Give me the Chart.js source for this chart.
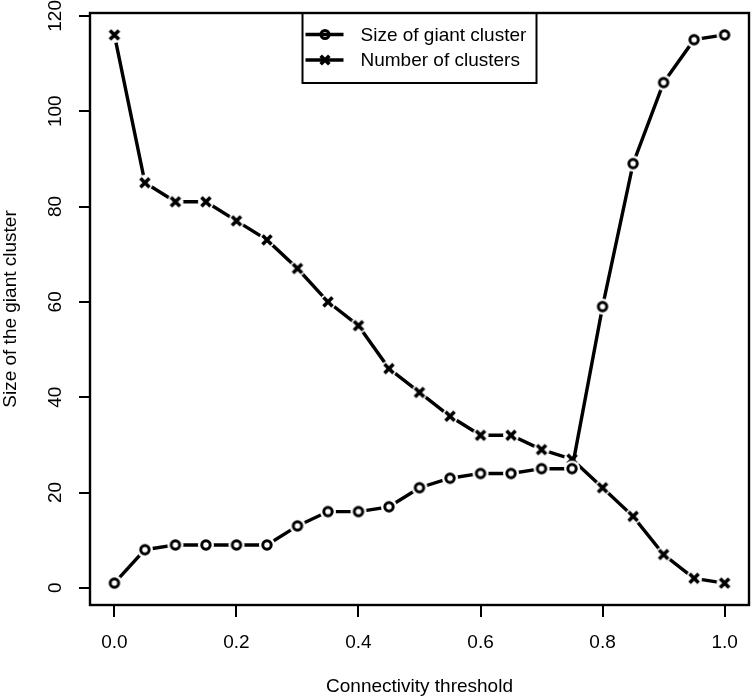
<!DOCTYPE html>
<html>
<head>
<meta charset="utf-8">
<script src="https://cdn.jsdelivr.net/npm/chart.js@4.4.1/dist/chart.umd.min.js"></script>
<style>
html, body { margin: 0; padding: 0; background: #ffffff; }
#c { display: block; }
</style>
</head>
<body>
<canvas id="c" width="753" height="699"></canvas>
<script>
// ---- data ----
const thresholds = [0.00, 0.05, 0.10, 0.15, 0.20, 0.25, 0.30, 0.35, 0.40, 0.45, 0.50,
                    0.55, 0.60, 0.65, 0.70, 0.75, 0.80, 0.85, 0.90, 0.95, 1.00];
const giantClusterSize = [1, 8, 9, 9, 9, 9, 13, 16, 16, 17, 21,
                          23, 24, 24, 25, 25, 59, 89, 106, 115, 116];
const numberOfClusters = [116, 85, 81, 81, 77, 73, 67, 60, 55, 46, 41,
                          36, 32, 32, 29, 27, 21, 15, 7, 2, 1];
const seriesLabels = ['Size of giant cluster', 'Number of clusters'];
const xTickValues = [0, 0.2, 0.4, 0.6, 0.8, 1.0];
const yTickValues = [0, 20, 40, 60, 80, 100, 120];
const xAxisTitle = 'Connectivity threshold';
const yAxisTitle = 'Size of the giant cluster';

const FONT = "'Liberation Sans', Arial, Helvetica, sans-serif";
const FS = 19;

function makeMarker(kind) {
  const s = 24, c = document.createElement('canvas');
  c.width = s; c.height = s;
  const g = c.getContext('2d');
  const m = s / 2;
  g.fillStyle = '#ffffff';
  g.beginPath(); g.arc(m, m, 8, 0, Math.PI * 2); g.fill();
  g.strokeStyle = '#000000';
  if (kind === 'circle') {
    g.lineWidth = 3;
    g.beginPath(); g.arc(m, m, 4.2, 0, Math.PI * 2); g.stroke();
  } else {
    g.lineWidth = 3.6; g.lineCap = 'butt';
    const d = 4.5;
    g.beginPath();
    g.moveTo(m - d, m - d); g.lineTo(m + d, m + d);
    g.moveTo(m + d, m - d); g.lineTo(m - d, m + d);
    g.stroke();
  }
  return c;
}
const circleMarker = makeMarker('circle');
const crossMarker = makeMarker('cross');

function toPoints(ys) { return thresholds.map((x, i) => ({ x: x, y: ys[i] })); }

function zeroPad(s) { s.paddingTop = 0; s.paddingBottom = 0; s.paddingLeft = 0; s.paddingRight = 0; }

const boxPlugin = {
  id: 'boxAndLegend',
  afterDraw(chart) {
    const { ctx, chartArea: a } = chart;
    ctx.save();
    ctx.strokeStyle = '#000';
    ctx.lineWidth = 2.4;
    ctx.strokeRect(a.left, a.top, a.right - a.left, a.bottom - a.top);

    // legend box (R style, "top" position)
    const lw = 234, lh = 70;
    const lx = (a.left + a.right) / 2 - lw / 2;
    const ly = a.top;
    ctx.lineWidth = 2;
    ctx.strokeRect(lx, ly, lw, lh);
    const rows = [
      { y: ly + 21.5, marker: 'circle', label: chart.data.datasets[0].label },
      { y: ly + 47, marker: 'cross', label: chart.data.datasets[1].label }
    ];
    ctx.font = FS + 'px ' + FONT;
    ctx.textBaseline = 'middle';
    ctx.textAlign = 'left';
    ctx.fillStyle = '#000';
    rows.forEach(r => {
      ctx.lineWidth = 3.6;
      ctx.beginPath(); ctx.moveTo(lx + 3, r.y); ctx.lineTo(lx + 41, r.y); ctx.stroke();
      const mx = lx + 22.5;
      if (r.marker === 'circle') {
        ctx.lineWidth = 3;
        ctx.beginPath(); ctx.arc(mx, r.y, 4, 0, Math.PI * 2); ctx.stroke();
      } else {
        ctx.lineWidth = 3.6; const d = 4.3;
        ctx.beginPath();
        ctx.moveTo(mx - d, r.y - d); ctx.lineTo(mx + d, r.y + d);
        ctx.moveTo(mx + d, r.y - d); ctx.lineTo(mx - d, r.y + d);
        ctx.stroke();
      }
      ctx.fillText(r.label, lx + 58, r.y + 1);
    });
    ctx.restore();
  }
};

Chart.defaults.font.family = FONT;
Chart.defaults.color = '#000';

new Chart(document.getElementById('c'), {
  type: 'line',
  data: {
    datasets: [
      {
        label: seriesLabels[0],
        data: toPoints(giantClusterSize),
        borderColor: '#000', borderWidth: 3.4, tension: 0,
        pointStyle: circleMarker, pointRadius: 0.5, pointBorderWidth: 0,
        fill: false, clip: false
      },
      {
        label: seriesLabels[1],
        data: toPoints(numberOfClusters),
        borderColor: '#000', borderWidth: 3.4, tension: 0,
        pointStyle: crossMarker, pointRadius: 0.5, pointBorderWidth: 0,
        fill: false, clip: false
      }
    ]
  },
  options: {
    responsive: false,
    animation: false,
    devicePixelRatio: 1,
    events: [],
    layout: { padding: { top: 13, right: 1, left: 0, bottom: 0 } },
    plugins: { legend: { display: false }, tooltip: { enabled: false } },
    scales: {
      x: {
        type: 'linear',
        min: -0.04, max: 1.04,
        afterBuildTicks: s => { s.ticks = xTickValues.map(v => ({ value: v })); },
        afterFit: s => { s.height = 94; zeroPad(s); },
        ticks: {
          autoSkip: false, maxRotation: 0, minRotation: 0,
          padding: 14, color: '#000',
          font: { size: FS, family: FONT },
          callback: v => Number(v).toFixed(1)
        },
        grid: { drawOnChartArea: false, drawTicks: true, tickLength: 12, color: '#000', lineWidth: 2 },
        border: { display: false },
        title: { display: true, text: xAxisTitle, color: '#000',
                 font: { size: FS, family: FONT, lineHeight: 1.2 }, padding: { top: 0, bottom: 1 } }
      },
      y: {
        type: 'linear',
        min: -3.6, max: 120.6,
        afterBuildTicks: s => { s.ticks = yTickValues.map(v => ({ value: v })); },
        afterFit: s => { s.width = 90; zeroPad(s); },
        ticks: {
          autoSkip: false, minRotation: 90, maxRotation: 90, crossAlign: 'center',
          padding: 7, color: '#000',
          font: { size: FS, family: FONT },
          callback: v => String(v)
        },
        grid: { drawOnChartArea: false, drawTicks: true, tickLength: 11, color: '#000', lineWidth: 2 },
        border: { display: false },
        title: { display: true, text: yAxisTitle, color: '#000',
                 font: { size: FS, family: FONT, lineHeight: 1.05 }, padding: { top: 1, bottom: 0 } }
      }
    }
  },
  plugins: [boxPlugin]
});
</script>
</body>
</html>
